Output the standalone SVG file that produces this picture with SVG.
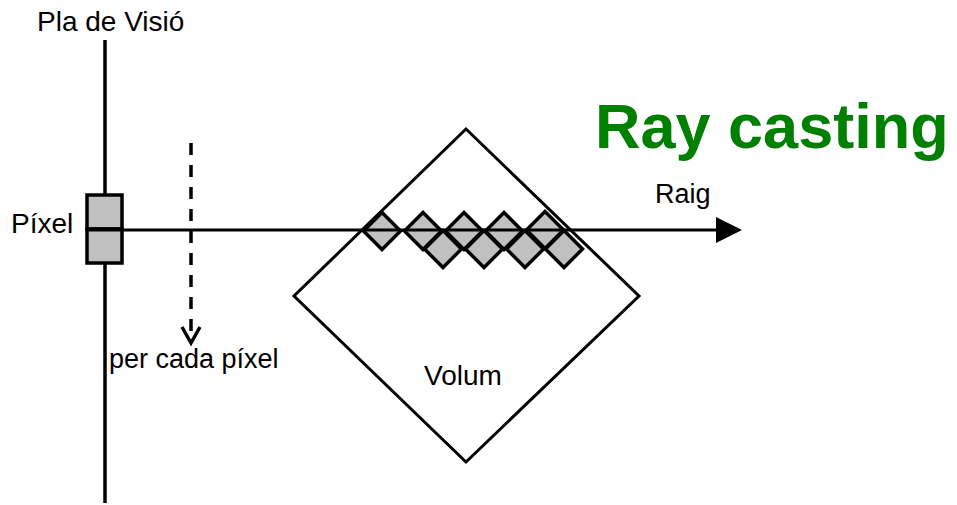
<svg xmlns="http://www.w3.org/2000/svg" width="957" height="505" viewBox="0 0 957 505">
<style>
text{font-family:"Liberation Sans",Arial,sans-serif;fill:#000}
.lbl{font-size:27px}
.ln{stroke:#000;stroke-width:3;fill:none}
.cell{fill:#c0c0c0;stroke:none}
.celo{fill:none;stroke:#000;stroke-width:3.5;stroke-linejoin:miter}
</style>
<defs>
<path id="dm" d="M0,-18.5 L18.5,0 L0,18.5 L-18.5,0 Z"/>
</defs>
<rect width="957" height="505" fill="#fff"/>
<g id="title"><text x="595" y="148" style="font-size:63px;font-weight:bold;fill:#008000">Ray casting</text></g>
<g id="pla">
<line class="ln" x1="105" y1="40" x2="105" y2="503" style="stroke-width:3.5"/>
<text class="lbl" x="37" y="31" style="font-size:28px">Pla de Visió</text>
</g>
<g id="volum">
<path d="M466,129 L639,296 L466,462 L294,296 Z" fill="#fff" stroke="none"/>
<g class="cell">
<use href="#dm" x="382" y="231"/><use href="#dm" x="423" y="231"/><use href="#dm" x="464" y="231"/><use href="#dm" x="504" y="231"/><use href="#dm" x="545" y="230"/>
<use href="#dm" x="443" y="249"/><use href="#dm" x="484" y="249"/><use href="#dm" x="525" y="249"/><use href="#dm" x="564" y="249"/>
</g>
<g class="celo">
<use href="#dm" x="382" y="231"/><use href="#dm" x="423" y="231"/><use href="#dm" x="464" y="231"/><use href="#dm" x="504" y="231"/><use href="#dm" x="545" y="230"/>
<use href="#dm" x="443" y="249"/><use href="#dm" x="484" y="249"/><use href="#dm" x="525" y="249"/><use href="#dm" x="564" y="249"/>
</g>
<path class="ln" d="M466,129 L639,296 L466,462 L294,296 Z"/>
<text class="lbl" x="424" y="385" style="font-size:28px">Volum</text>
</g>
<g id="pixel">
<rect x="87" y="195" width="35" height="34" fill="#c0c0c0" stroke="#000" stroke-width="3.5"/>
<rect x="87" y="229" width="35" height="34" fill="#c0c0c0" stroke="#000" stroke-width="3.5"/>
<text class="lbl" x="11" y="233" style="font-size:28px">Píxel</text>
</g>
<g id="connectors">
<line class="ln" x1="87" y1="230" x2="718" y2="230"/>
<path d="M716,217 L742,230 L716,243 Z" fill="#000"/>
<line class="ln" x1="191" y1="143" x2="191" y2="340" stroke-dasharray="12 10" style="stroke-width:3.5"/>
<path class="ln" d="M182,327 L191,343 L200,327" style="stroke-width:3.5"/>
</g>
<g id="raig"><text class="lbl" x="655" y="203">Raig</text></g>
<g id="percada"><text class="lbl" x="109" y="368">per cada píxel</text></g>
</svg>
